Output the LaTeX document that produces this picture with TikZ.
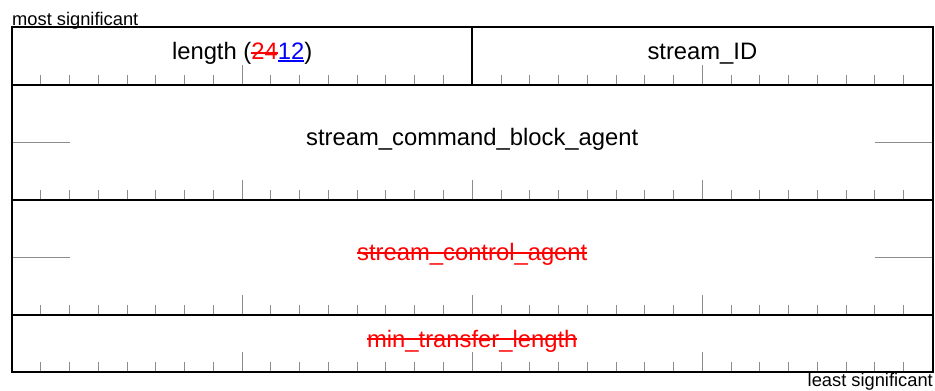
\documentclass[tikz,border=0pt]{standalone}
\usepackage{fontspec}
\setmainfont{Liberation Sans}
\definecolor{tickgray}{RGB}{140,140,140}
\definecolor{delred}{RGB}{255,0,0}
\definecolor{insblue}{RGB}{0,0,255}
% struck-through and underlined text runs
\newcommand\strikeout[2][0.3em]{\setbox0=\hbox{#2}\rlap{\rule[#1]{\wd0}{1.8pt}}\box0}
\newcommand\underrule[1]{\setbox0=\hbox{#1}\rlap{\rule[-2.6pt]{\wd0}{1.8pt}}\box0}
\tikzset{
  frameline/.style={draw=black, line width=2pt},
  rowline/.style={draw=black, line width=1.6pt},
  bittick/.style={draw=tickgray, line width=1pt},
  sideline/.style={draw=tickgray, line width=1pt},
  fieldtext/.style={font=\fontsize{23.8}{28}\selectfont, anchor=base, inner sep=0pt},
  edgetext/.style={font=\fontsize{18.3}{22}\selectfont, inner sep=0pt},
}
\begin{document}
\begin{tikzpicture}[x=1pt, y=-1pt]
\useasboundingbox (0,0) rectangle (935,391);
% register geometry: 32 bits across
\def\xl{12}
\def\xr{932.5}
\def\bw{28.766}
% bit ticks along the bottom of each row
\foreach \yb in {85,200,315,372}{
  \foreach \k in {1,...,31}{
    \pgfmathsetmacro\h{ifthenelse(mod(\k,8)==0,20,10)}
    \draw[bittick] ({\xl+\k*\bw},\yb) -- ++(0,-\h);
  }
}
% row corners
\coordinate (tl) at (\xl,27);
\coordinate (tr) at (\xr,27);
\coordinate (bl) at (\xl,372);
\coordinate (br) at (\xr,372);
\coordinate (r1l) at (\xl,85);   \coordinate (r1r) at (\xr,85);
\coordinate (r2l) at (\xl,200);  \coordinate (r2r) at (\xr,200);
\coordinate (r3l) at (\xl,315);  \coordinate (r3r) at (\xr,315);
\coordinate (midtop) at ({\xl+16*\bw},27);
\coordinate (midbot) at ({\xl+16*\bw},85);
% continuation marks for the 64-bit fields
\coordinate (a2l) at (\xl,142);  \coordinate (a2le) at ({\xl+2*\bw},142);
\coordinate (a2r) at (\xr,142);  \coordinate (a2re) at ({\xr-2*\bw},142);
\coordinate (a3l) at (\xl,257);  \coordinate (a3le) at ({\xl+2*\bw},257);
\coordinate (a3r) at (\xr,257);  \coordinate (a3re) at ({\xr-2*\bw},257);
\draw[sideline] (a2l) -- (a2le);
\draw[sideline] (a2r) -- (a2re);
\draw[sideline] (a3l) -- (a3le);
\draw[sideline] (a3r) -- (a3re);
% row separators and the field divider
\draw[rowline] (r1l) -- (r1r);
\draw[rowline] (r2l) -- (r2r);
\draw[rowline] (r3l) -- (r3r);
\draw[rowline] (midtop) -- (midbot);
\draw[frameline] (tl) rectangle (br);
% field names
\node[fieldtext] (length) at ({\xl+8*\bw},59)
  {length (\textcolor{delred}{\strikeout[0.2em]{24}}\textcolor{insblue}{\underrule{12}})};
\node[fieldtext] (sid) at ({\xl+24*\bw},59) {stream\_ID};
\node[fieldtext] (cmdagent) at ({\xl+16*\bw},145.7) {stream\_command\_block\_agent};
\node[fieldtext, text=delred] (ctlagent) at ({\xl+16*\bw},260.7) {\strikeout{stream\_control\_agent}};
\node[fieldtext, text=delred] (minlen) at ({\xl+16*\bw},347) {\strikeout{min\_transfer\_length}};
% bit order notes
\node[edgetext, anchor=base west] (msb) at (\xl,25) {most significant};
\node[edgetext, anchor=base east] (lsb) at (933,386.7) {least significant};
\end{tikzpicture}
\end{document}
